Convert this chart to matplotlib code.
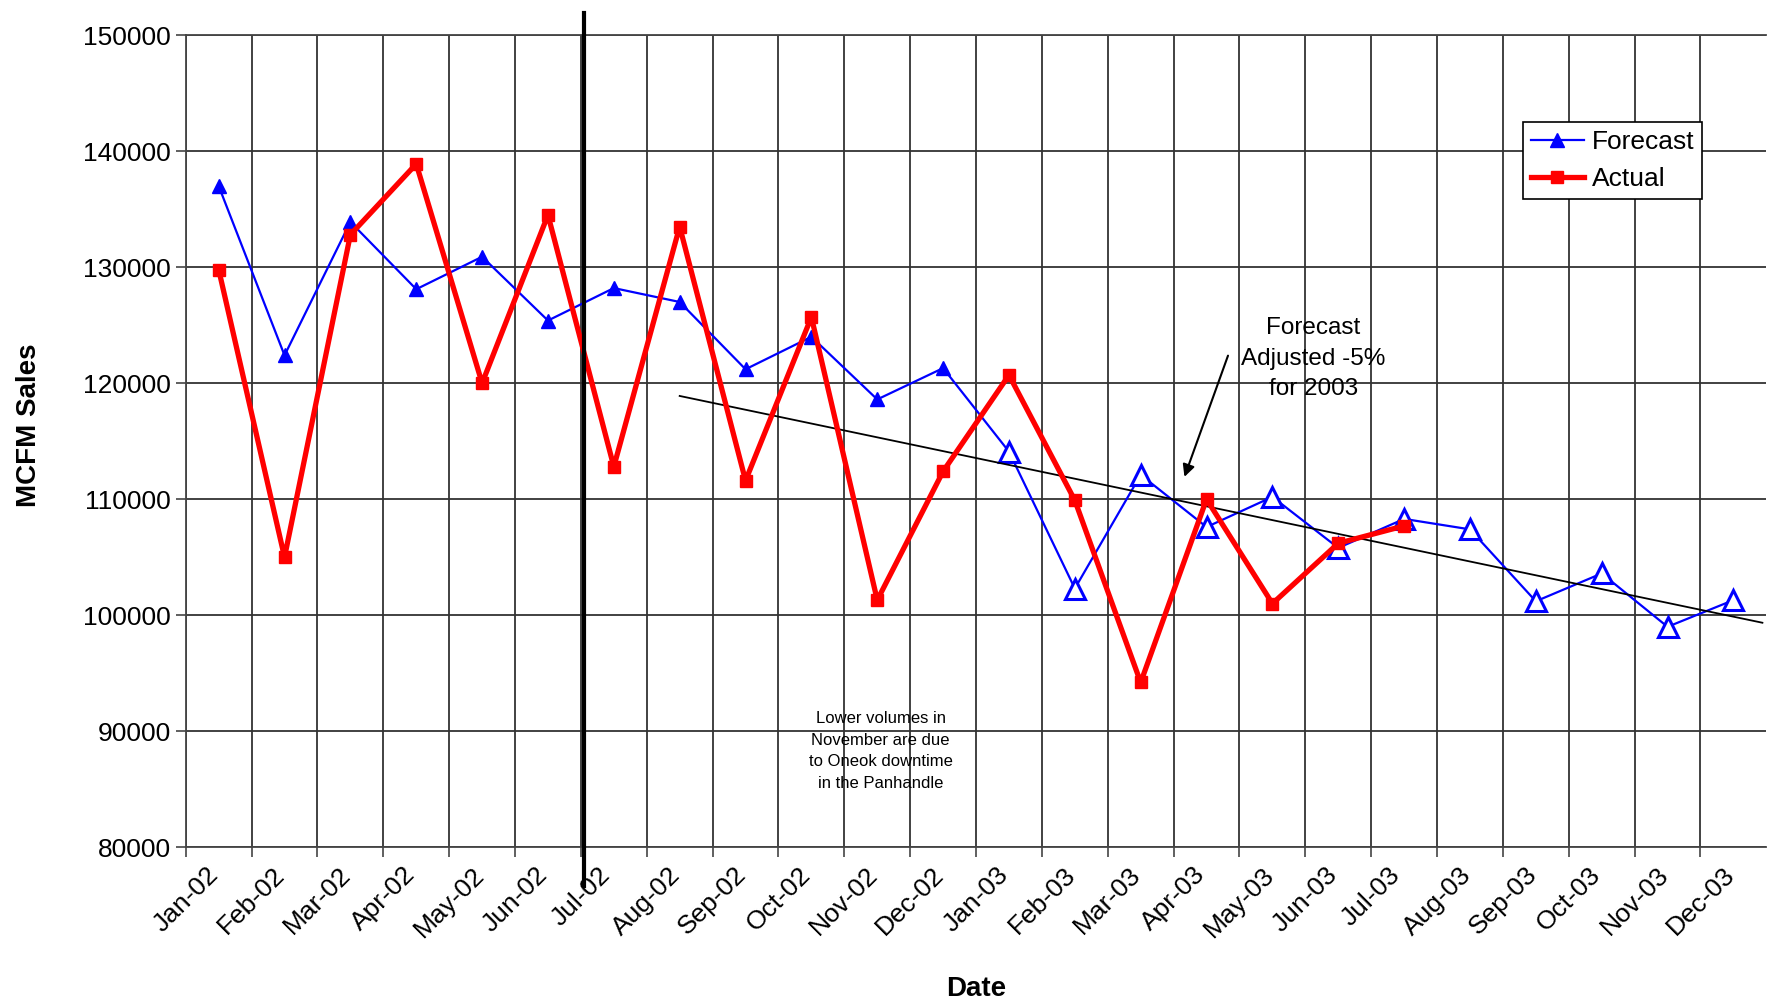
import matplotlib
matplotlib.use("Agg")
import matplotlib.pyplot as plt
from matplotlib.lines import Line2D
from matplotlib.transforms import blended_transform_factory
import numpy as np

plt.rcParams['font.family'] = ['Liberation Sans', 'DejaVu Sans']

months = ["Jan-02", "Feb-02", "Mar-02", "Apr-02", "May-02", "Jun-02", "Jul-02", "Aug-02",
          "Sep-02", "Oct-02", "Nov-02", "Dec-02", "Jan-03", "Feb-03", "Mar-03", "Apr-03",
          "May-03", "Jun-03", "Jul-03", "Aug-03", "Sep-03", "Oct-03", "Nov-03", "Dec-03"]

forecast = [137000, 122400, 133900, 128100, 130900, 125400, 128200, 127000, 121200, 124000,
            118600, 121300, 114100, 102300, 112100, 107600, 110200, 105800, 108300, 107400,
            101200, 103600, 99000, 101300]

actual = [129800, 105000, 132800, 138900, 120000, 134500, 112800, 133500, 111600, 125700,
          101300, 112400, 120700, 109900, 94200, 110000, 101000, 106200, 107700]

trend_x = [7.5, 23.94]
trend_y = [118900, 99350]

fig = plt.figure(figsize=(17.69, 10.05), dpi=100)
ax = fig.add_axes([0.105, 0.157, 0.8935, 0.808])

n = len(months)
xf = np.arange(n) + 0.5
xa = np.arange(len(actual)) + 0.5

# forecast line
ax.plot(xf, forecast, color='blue', lw=1.6, zorder=3)
ax.plot(xf[:12], forecast[:12], ls='none', marker='^', ms=10, color='blue', zorder=4)
ax.plot(xf[12:], forecast[12:], ls='none', marker='^', ms=14, mfc='white', mec='blue',
        mew=2.2, zorder=4)
# actual line
ax.plot(xa, actual, color='red', lw=3.8, marker='s', ms=9, zorder=5)
# trend line
ax.plot(trend_x, trend_y, color='black', lw=1.3, zorder=4)

# vertical separator
trans = blended_transform_factory(ax.transData, ax.transAxes)
ax.plot([6.04, 6.04], [1.027, -0.048], color='black', lw=3, transform=trans, clip_on=False, zorder=6)

ax.set_xlim(0, n)
ax.set_ylim(80000, 150000)
ax.set_xticks(np.arange(n))
ax.set_xticklabels(months, rotation=45, ha='center', va='top', fontsize=19)
ax.set_yticks(np.arange(80000, 150001, 10000))
ax.tick_params(axis='y', labelsize=19, direction='out', length=7, width=1.2, color='#444444')
ax.tick_params(axis='x', direction='out', length=7, width=1.2, color='#444444', pad=4)

ax.grid(True, color='#333333', lw=1.3)
ax.set_axisbelow(True)
for s in ax.spines.values():
    s.set_color('#444444')
    s.set_linewidth(1.3)
ax.spines['right'].set_visible(False)

ax.set_ylabel("MCFM Sales", fontsize=20, fontweight='bold')
ax.set_xlabel("Date", fontsize=20, fontweight='bold')
ax.xaxis.set_label_coords(0.5, -0.158)
ax.yaxis.set_label_coords(-0.091, 0.52)

# annotations
ax.annotate("", xy=(15.15, 111700), xytext=(15.84, 122600),
            arrowprops=dict(arrowstyle='-|>', color='black', lw=1.5, mutation_scale=18))
ax.text(17.12, 122100, "Forecast\nAdjusted -5%\nfor 2003", ha='center', va='center',
        fontsize=17.5, linespacing=1.5)
ax.text(10.55, 88300, "Lower volumes in\nNovember are due\nto Oneok downtime\nin the Panhandle",
        ha='center', va='center', fontsize=12, linespacing=1.55)

handles = [Line2D([], [], color='blue', lw=1.6, marker='^', ms=10),
           Line2D([], [], color='red', lw=3.8, marker='s', ms=9)]
leg = ax.legend(handles, ["Forecast", "Actual"], loc='upper left', bbox_to_anchor=(0.846, 0.893),
                fontsize=19, fancybox=False, framealpha=1, edgecolor='black',
                handlelength=2.0, borderaxespad=0, handletextpad=0.3, labelspacing=0.5,
                borderpad=0.3)
leg.get_frame().set_linewidth(1.2)

fig.savefig("out.png", dpi=100)
